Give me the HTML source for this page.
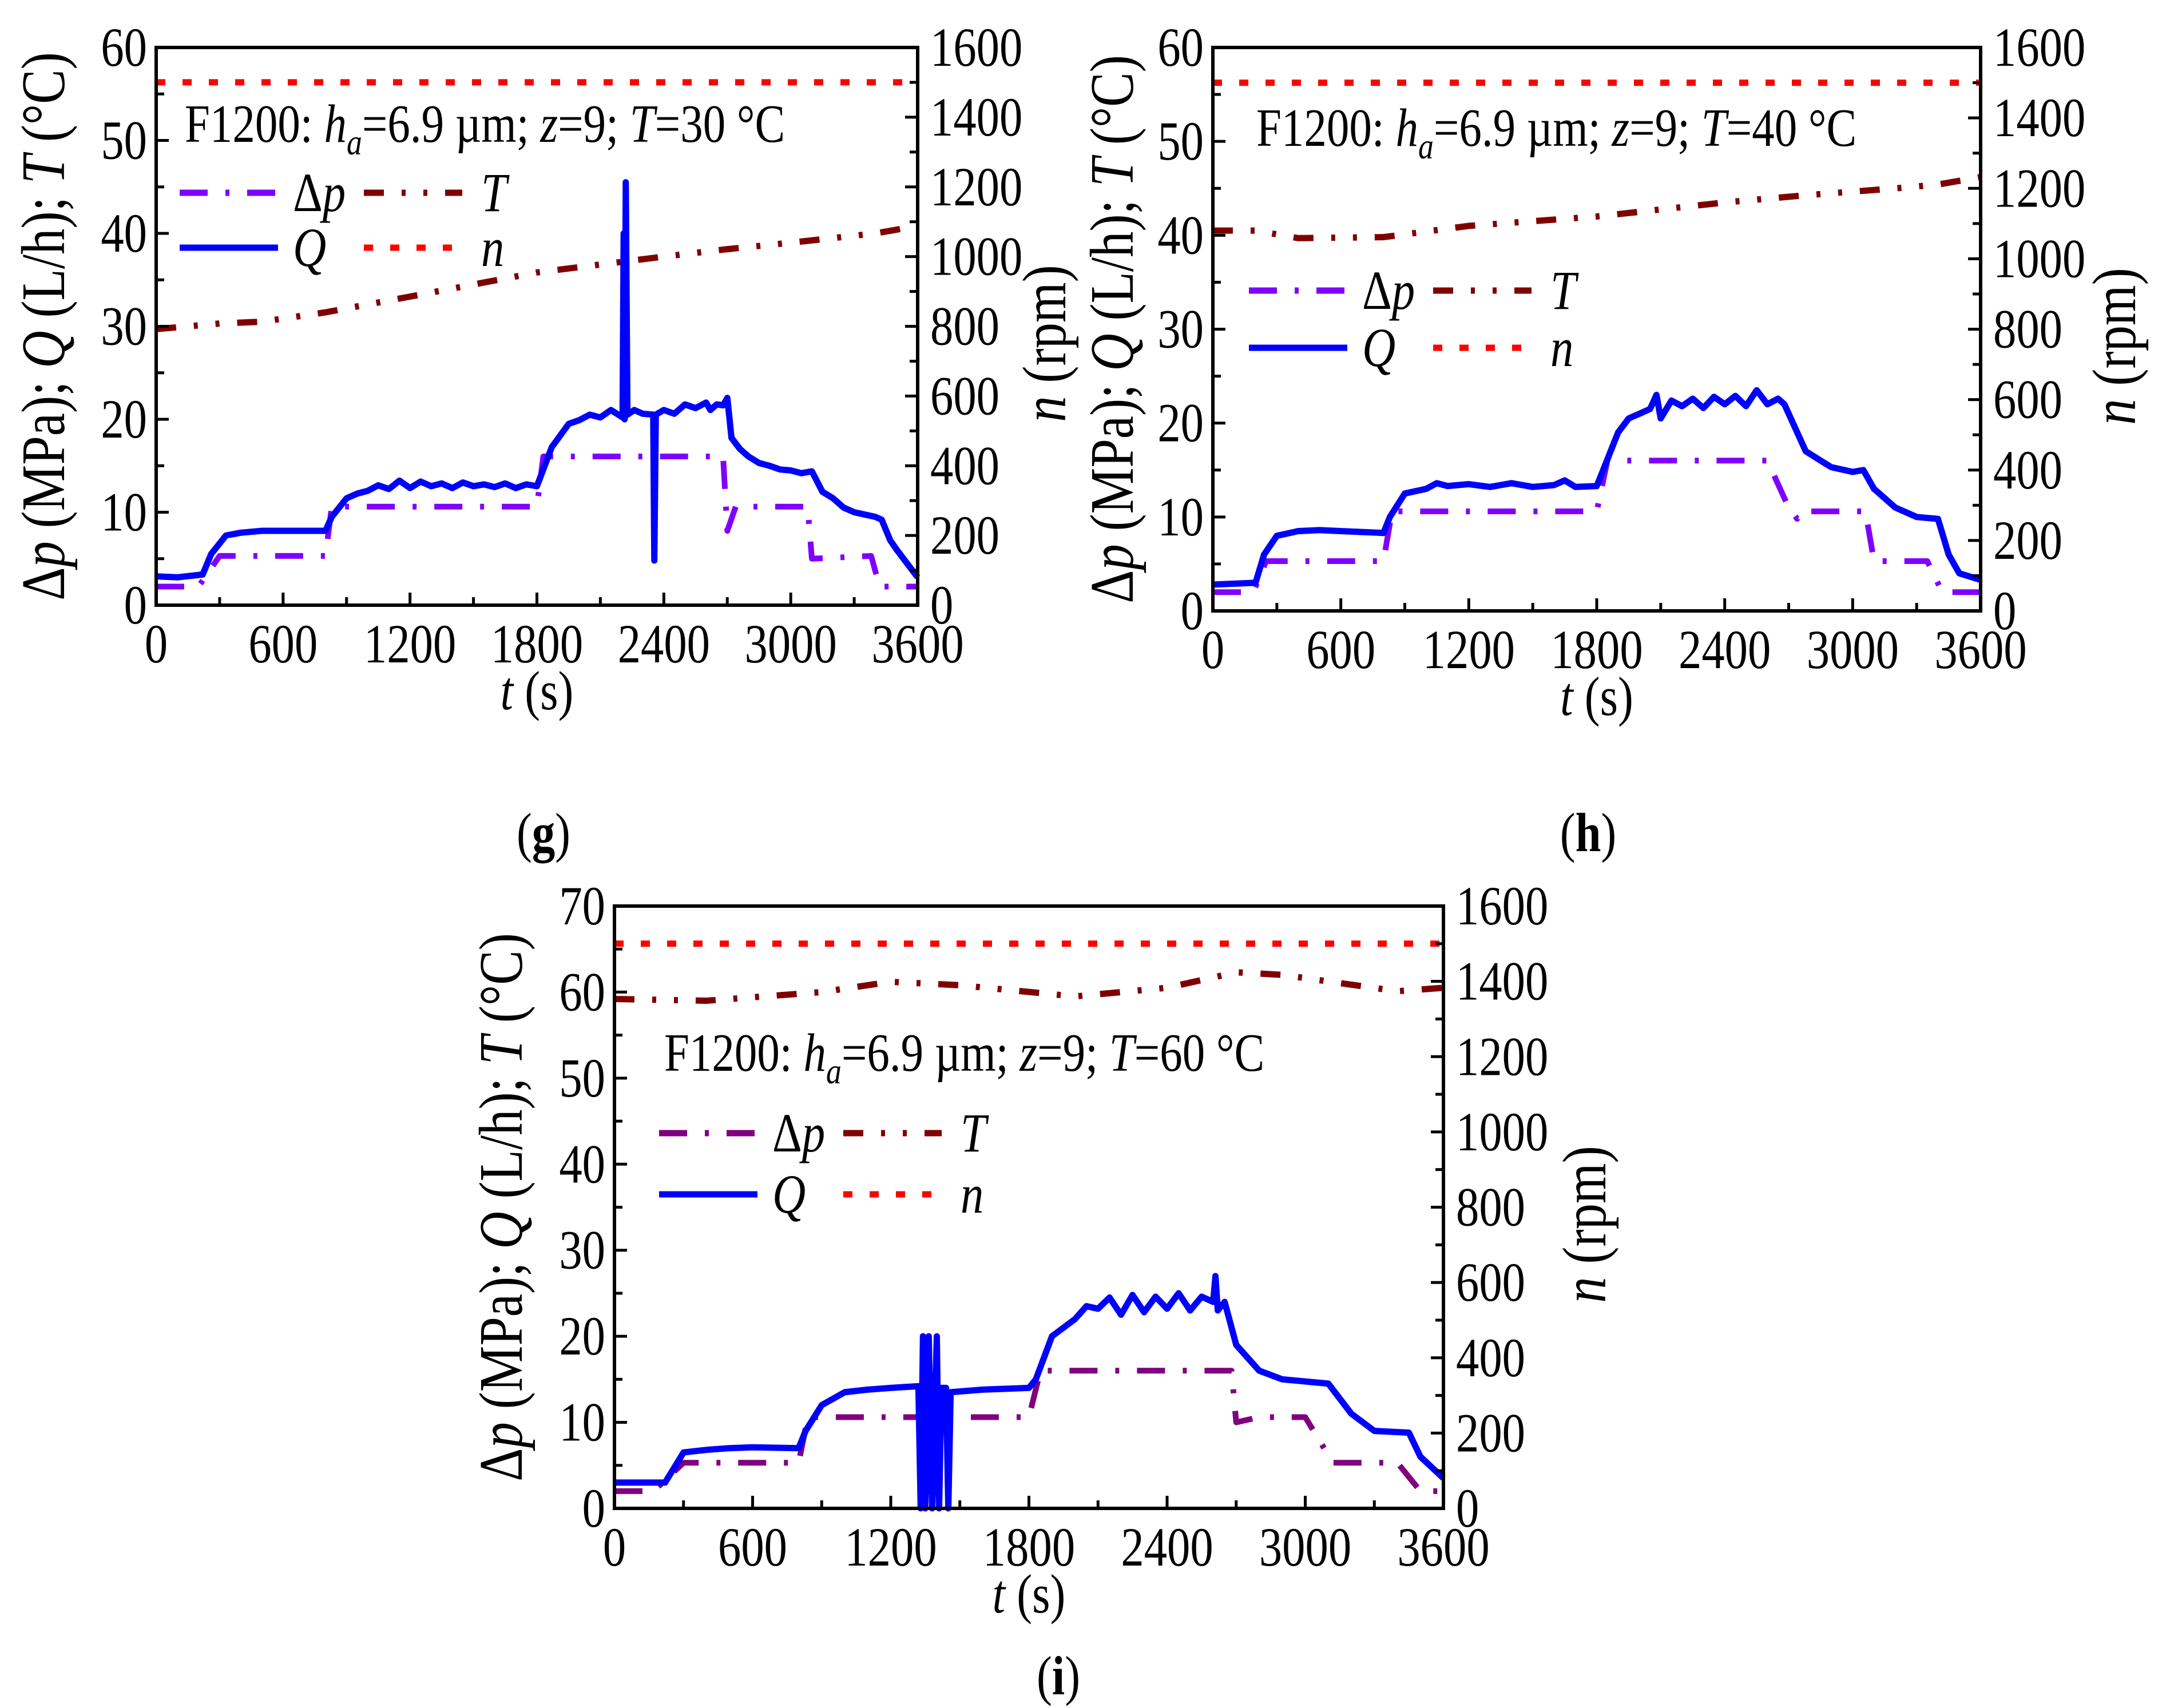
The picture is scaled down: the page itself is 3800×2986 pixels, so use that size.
<!DOCTYPE html>
<html><head><meta charset="utf-8"><style>
html,body{margin:0;padding:0;background:#fff;}
svg{display:block;font-family:"Liberation Serif",serif;}
</style></head><body>
<svg id="fig" width="3800" height="2986" viewBox="0 0 3800 2986" xmlns="http://www.w3.org/2000/svg">
<rect width="3800" height="2986" fill="#fff"/>
</svg>
<script>
// ---- Chart g data (T=30 °C) ----
const gDpT=[0,190,200,300,800,830,1800,1830,2680,2700,2740,3080,3100,3380,3420,3600];
const gDpV=[2,2,2,5.3,5.3,10.6,10.6,16,16,8,10.6,10.6,5,5.3,2,2];
const gQT=[0,100,220,260,330,400,500,650,800,830,900,950,1000,1050,1100,1150,1200,1250,1300,1350,1400,1450,1500,1550,1600,1650,1700,1750,1800,1820,1870,1950,2000,2050,2100,2150,2205,2210,2215,2220,2228,2260,2300,2350,2355,2362,2400,2450,2500,2550,2600,2620,2650,2680,2700,2720,2760,2800,2850,2900,2950,3000,3050,3100,3150,3200,3250,3300,3400,3430,3470,3500,3550,3600];
const gQV=[3.1,3.0,3.3,5.5,7.5,7.8,8.0,8.0,8.0,9.5,11.5,12.0,12.3,12.9,12.5,13.4,12.6,13.3,12.8,13.1,12.6,13.2,12.8,13.0,12.7,13.1,12.6,13.0,12.8,14,17,19.5,19.9,20.5,20.2,21.0,20.2,40,20,45.5,20.5,21.0,20.6,20.5,4.8,20.5,21.0,20.6,21.6,21.2,21.8,21.0,21.6,21.5,22.3,18,16.8,16,15.3,15.0,14.6,14.5,14.2,14.4,12.2,11.5,10.5,10.0,9.5,9.2,7,6,4.5,3.0];
const gTT=[0,300,500,800,1200,1800,2400,2700,3000,3400,3600];
const gTV=[29.7,30.3,30.5,31.5,33.2,35.8,37.5,38.3,39,40,40.8];
const gNT=[0,3600];
const gNV=[1500,1500];
// ---- Chart h data (T=40 °C) ----
const hDpT=[0,190,250,800,840,1800,1850,2600,2700,2740,2760,3060,3100,3350,3420,3600];
const hDpV=[2,2,5.3,5.3,10.6,10.6,16,16,11,9.8,10.6,10.6,5.3,5.3,2,2];
const hQT=[0,200,240,300,400,500,600,800,830,900,1000,1050,1100,1200,1300,1400,1500,1600,1650,1700,1800,1830,1900,1950,2000,2050,2080,2100,2150,2200,2250,2300,2350,2400,2450,2500,2550,2600,2650,2680,2720,2780,2850,2900,3000,3050,3100,3150,3200,3300,3400,3450,3500,3600];
const hQV=[2.8,3.0,6.0,8.0,8.5,8.6,8.5,8.3,10,12.5,13.0,13.6,13.3,13.5,13.2,13.6,13.2,13.4,13.9,13.2,13.3,15,19,20.5,21.0,21.5,23,20.5,22.4,21.8,22.6,21.6,22.8,22.0,22.9,21.8,23.5,22,22.6,22,20,17,16,15.3,14.8,15,13,12,11,10,9.8,6,4,3.3];
const hTT=[0,200,400,800,1200,1800,2400,2800,3200,3400,3600];
const hTV=[40.5,40.5,39.7,39.8,41,42,43.5,44.3,45,45.4,46.2];
const hNT=[0,3600];
const hNV=[1500,1500];
// ---- Chart i data (T=60 °C) ----
const iDpT=[0,170,300,800,840,1800,1850,2680,2700,2800,3000,3120,3400,3500,3600];
const iDpV=[2,2,5.3,5.3,10.6,10.6,16,16,10,10.6,10.6,5.3,5.3,2,2];
const iQT=[0,220,300,400,500,600,800,830,900,1000,1100,1200,1320,1330,1340,1350,1365,1380,1400,1410,1420,1440,1450,1460,1600,1800,1830,1900,2000,2050,2100,2150,2200,2250,2300,2350,2400,2450,2500,2550,2600,2610,2620,2650,2700,2800,2900,3100,3200,3300,3450,3500,3600];
const iQV=[3,3,6.5,6.8,7.0,7.1,7.0,9,12,13.5,13.8,14,14.2,0,20,0,20,0,20,0,14,14,0,13.5,13.8,14,15,20,22,23.5,23.2,24.5,22.5,24.8,22.8,24.6,23.2,25,23,24.6,24,27,23,24,19,16,15,14.5,11,9,8.8,6,3.5];
const iTT=[0,400,900,1200,1500,2000,2400,2700,2900,3400,3600];
const iTV=[59.2,59,60,61.2,60.8,59.5,60.5,62.3,62,60.1,60.5];
const iNT=[0,3600];
const iNV=[1500,1500];
// Tick labels
const xTicks=[0,600,1200,1800,2400,3000,3600];
const yTicks60=[0,10,20,30,40,50,60];
const yTicks70=[0,10,20,30,40,50,60,70];
const rTicks=[0,200,400,600,800,1000,1200,1400,1600];

const NS='http://www.w3.org/2000/svg';
const svg=document.getElementById('fig');
function mk(tag,attrs,parent){const e=document.createElementNS(NS,tag);for(const k in attrs)e.setAttribute(k,attrs[k]);(parent||svg).appendChild(e);return e;}
const SX=0.84;
function txt(parent,x,y,size,anchor,html,rot){
  const tr=rot?`translate(${x},${y}) rotate(-90) scale(${SX},1)`:`translate(${x},${y}) scale(${SX},1)`;
  const t=mk('text',{x:0,y:0,'font-size':size,'text-anchor':anchor,transform:tr},parent);
  t.innerHTML=html;return t;
}

function chart(c){
  const g=mk('g',{});
  
  
  const X=t=>c.x0+(t/3600)*(c.x1-c.x0);
  const Y=v=>c.y1-(v/c.ymax)*(c.y1-c.y0);
  const R=v=>c.y1-(v/1600)*(c.y1-c.y0);
  const FS=96;
  function series(ts,vs,fn,color,w,dash,nm){
    let d='';for(let i=0;i<ts.length;i++)d+=(i?'L':'M')+X(ts[i]).toFixed(1)+' '+fn(vs[i]).toFixed(1);
    const p=mk('path',{d:d,fill:'none',stroke:color,'stroke-width':w,'stroke-dasharray':dash||'none','stroke-linejoin':'round'},g);
    
    
  }
  const DPD='49 31 7 31', TD='35 31 7 31 7 31', ND='16 30';
  series(c.nT,c.nV,R,'#ff0000',11,ND,'n-line');
  series(c.TT,c.TV,Y,'#800000',11,TD,'T-line');
  series(c.dpT,c.dpV,Y,c.dpColor,10,DPD,'dp-line');
  series(c.QT,c.QV,Y,'#0000ff',11,null,'Q-line');
  const fr=mk('rect',{x:c.x0,y:c.y0,width:c.x1-c.x0,height:c.y1-c.y0,fill:'none',stroke:'#000','stroke-width':6},g);
  
  
  for(let t=0;t<=3600;t+=300){const L=(t%600===0)?22:14;mk('line',{x1:X(t),x2:X(t),y1:c.y1,y2:c.y1-L,stroke:'#000','stroke-width':5},g);}
  xTicks.forEach(t=>{const tx=txt(g,X(t),c.y1+100,FS,'middle',String(t));
    
    });
  for(let v=0;v<=c.ymax;v+=5){const L=(v%10===0)?22:14;mk('line',{x1:c.x0,x2:c.x0+L,y1:Y(v),y2:Y(v),stroke:'#000','stroke-width':5},g);}
  c.yTicks.forEach(v=>{const tx=txt(g,c.x0-16,Y(v)+32,FS,'end',String(v));
    
    });
  for(let v=0;v<=1600;v+=100){const L=(v%200===0)?22:14;mk('line',{x1:c.x1,x2:c.x1-L,y1:R(v),y2:R(v),stroke:'#000','stroke-width':5},g);}
  rTicks.forEach(v=>{const tx=txt(g,c.x1+22,R(v)+32,FS,'start',String(v));
    
    });
  const xl=txt(g,(c.x0+c.x1)/2,c.y1+182,FS,'middle','<tspan font-style="italic">t</tspan> (s)');
  
  
  const cy=(c.y0+c.y1)/2;
  const yl=txt(g,c.ylx,cy,108,'middle','Δ<tspan font-style="italic">p</tspan> (MPa); <tspan font-style="italic">Q</tspan> (L/h); <tspan font-style="italic">T</tspan> (°C)',true);
  
  
  const rl=txt(g,c.rlx,cy+30,108,'middle','<tspan font-style="italic">n</tspan> (rpm)',true);
  
  
  const tt=txt(g,c.tx,c.ty,94,'start','F1200: <tspan font-style="italic">h</tspan><tspan font-style="italic" font-size="64" dy="22">a</tspan><tspan dy="-22">=6.9 µm; </tspan><tspan font-style="italic">z</tspan>=9; <tspan font-style="italic">T</tspan>='+c.temp+' °C');
  
  
  const lg=mk('g',{},g);
  
  
  const lx=c.lx, ly=c.ly, dy=c.ldy;
  function entry(x,y,color,dash,w,label,tx){
    mk('line',{x1:x,x2:x+172,y1:y,y2:y,stroke:color,'stroke-width':w,'stroke-dasharray':dash||'none'},lg);
    const t=txt(lg,x+tx,y+32,FS,'start',label);
    
    
  }
  entry(lx,ly,c.dpColor,DPD,11,'Δ<tspan font-style="italic">p</tspan>',198);
  entry(lx+322,ly,'#800000',TD,11,'<tspan font-style="italic">T</tspan>',205);
  entry(lx,ly+dy,'#0000ff',null,11,'<tspan font-style="italic">Q</tspan>',198);
  entry(lx+322,ly+dy,'#ff0000',ND,11,'<tspan font-style="italic">n</tspan>',205);
  const pl=txt(g,c.px,c.py,FS,'middle','(<tspan font-weight="bold">'+c.letter+'</tspan>)');
  
  
}
chart({name:'chart-g',x0:273,x1:1604,y0:83,y1:1058,ymax:60,yTicks:yTicks60,dpColor:'#8000ff',
  dpT:gDpT,dpV:gDpV,QT:gQT,QV:gQV,TT:gTT,TV:gTV,nT:gNT,nV:gNV,
  ylx:112,rlx:1862,tx:323,ty:248,temp:'30',lx:314,ly:337,ldy:96,px:950,py:1488,letter:'g'});
chart({name:'chart-h',x0:2120,x1:3462,y0:83,y1:1068,ymax:60,yTicks:yTicks60,dpColor:'#8000ff',
  dpT:hDpT,dpV:hDpV,QT:hQT,QV:hQV,TT:hTT,TV:hTV,nT:hNT,nV:hNV,
  ylx:1980,rlx:3732,tx:2196,ty:255,temp:'40',lx:2183,ly:508,ldy:100,px:2776,py:1488,letter:'h'});
chart({name:'chart-i',x0:1074,x1:2523,y0:1584,y1:2637,ymax:70,yTicks:yTicks70,dpColor:'#800080',
  dpT:iDpT,dpV:iDpV,QT:iQT,QV:iQV,TT:iTT,TV:iTV,nT:iNT,nV:iNV,
  ylx:912,rlx:2806,tx:1161,ty:1872,temp:'60',lx:1152,ly:1981,ldy:107,px:1850,py:2962,letter:'i'});
</script>
</body></html>
